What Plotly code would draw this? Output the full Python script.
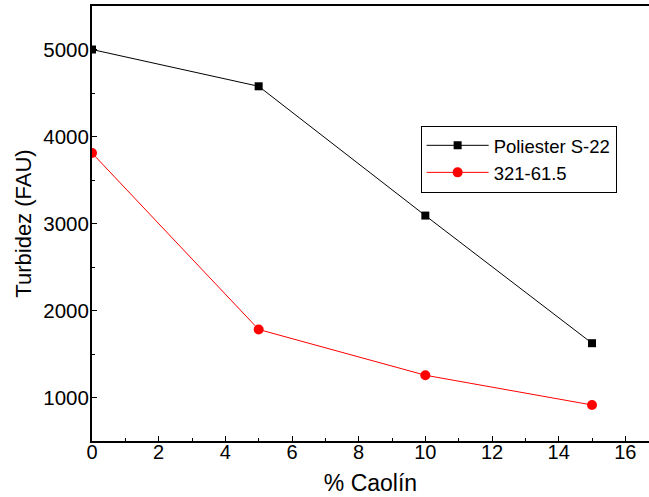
import plotly.graph_objects as go

caolin = [0, 5, 10, 15]
poliester = [5000, 4577, 3091, 1624]
resina = [3810, 1782, 1256, 914]

x_ticks = [0, 2, 4, 6, 8, 10, 12, 14, 16]
y_ticks = [1000, 2000, 3000, 4000, 5000]

FONT = "Liberation Sans, Arial, sans-serif"

fig = go.Figure()
fig.add_trace(go.Scatter(
    x=caolin, y=poliester, mode="lines+markers", name="Poliester S-22",
    line=dict(color="black", width=1),
    marker=dict(symbol="square", size=8, color="black"),
))
fig.add_trace(go.Scatter(
    x=caolin, y=resina, mode="lines+markers", name="321-61.5",
    line=dict(color="red", width=1),
    marker=dict(symbol="circle", size=10, color="red"),
))

fig.update_layout(
    width=649, height=497,
    margin=dict(l=92, r=0, t=6, b=56, autoexpand=False),
    paper_bgcolor="white", plot_bgcolor="white",
    font=dict(family=FONT, size=19, color="black"),
    showlegend=True,
    legend=dict(
        x=0.59, y=0.7246, xanchor="left", yanchor="top",
        bordercolor="black", borderwidth=1, bgcolor="white",
        font=dict(family=FONT, size=18.5, color="black"),
        tracegroupgap=0, itemsizing="trace", itemwidth=62,
    ),
)

fig.update_xaxes(
    range=[0, 16.71], automargin=False,
    tickvals=x_ticks, ticktext=[str(v) for v in x_ticks],
    ticks="inside", ticklen=5, tickwidth=1, tickcolor="black",
    minor=dict(dtick=1, ticks="inside", ticklen=3, tickcolor="black", showgrid=False),
    showline=True, linecolor="black", linewidth=2, mirror=True,
    showgrid=False, zeroline=False,
    title=dict(text="% Caolín", font=dict(family=FONT, size=23), standoff=13),
    tickfont=dict(family=FONT, size=20),
    ticklabelstandoff=-8,
)
fig.update_yaxes(
    range=[500, 5500], automargin=False,
    tickvals=y_ticks, ticktext=[str(v) for v in y_ticks],
    ticks="inside", ticklen=5, tickwidth=1, tickcolor="black",
    minor=dict(tickvals=[1500, 2500, 3500, 4500], ticks="inside", ticklen=3, tickcolor="black", showgrid=False),
    showline=True, linecolor="black", linewidth=2, mirror=False,
    showgrid=False, zeroline=False,
    title=dict(text="Turbidez (FAU)", font=dict(family=FONT, size=22), standoff=6),
    tickfont=dict(family=FONT, size=20.5),
    ticklabelstandoff=-3,
)

fig.write_html(
    "out.html",
    config={"displayModeBar": False},
    post_script="document.body.style.margin='0';document.body.style.padding='0';",
)
